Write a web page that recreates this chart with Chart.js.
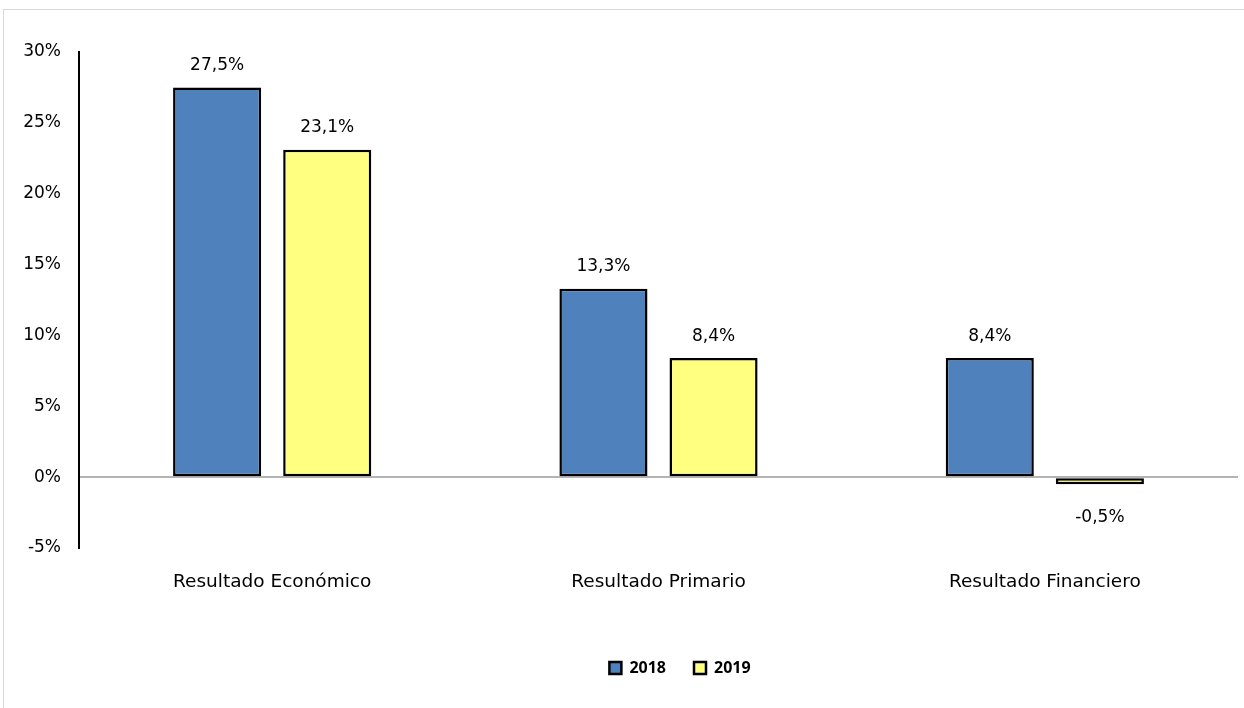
<!DOCTYPE html>
<html>
<head>
<meta charset="utf-8">
<script src="https://cdn.jsdelivr.net/npm/chart.js@4"></script>
<style>
  html, body { margin: 0; padding: 0; background: #fff; overflow: hidden; width: 1244px; height: 708px; position: relative; }
  #box { position: absolute; left: 4px; top: 10px; width: 1352px; height: 700px; background: #fff; }
  #topline { position: absolute; left: 3px; top: 9px; width: 1241px; height: 1px; background: #d9d9d9; }
  #leftline { position: absolute; left: 3px; top: 9px; width: 1px; height: 699px; background: #d9d9d9; }
  canvas { display: block; }
</style>
</head>
<body>
<div id="box"><canvas id="c" width="1352" height="700"></canvas></div>
<div id="topline"></div>
<div id="leftline"></div>
<script>
const categories = ["Resultado Económico", "Resultado Primario", "Resultado Financiero"];
const seriesNames = ["2018", "2019"];
const values2018 = [27.5, 13.3, 8.4];
const values2019 = [23.1, 8.4, -0.5];
const yTicks = [-5, 0, 5, 10, 15, 20, 25, 30];

const FONT = "'DejaVu Sans', 'Noto Sans', sans-serif";

const fmt = v => v.toFixed(1).replace('.', ',') + '%';

const labelPlugin = {
  id: 'barLabels',
  afterDatasetsDraw(chart) {
    const ctx = chart.ctx;
    ctx.save();
    ctx.font = "17px " + FONT;
    ctx.fillStyle = '#000';
    ctx.textAlign = 'center';
    ctx.textBaseline = 'middle';
    chart.data.datasets.forEach((ds, i) => {
      const meta = chart.getDatasetMeta(i);
      meta.data.forEach((bar, j) => {
        const v = ds.data[j];
        const y = v >= 0 ? bar.y - 22 : bar.y + 33;
        ctx.fillText(fmt(v), bar.x, y);
      });
    });
    ctx.restore();
  }
};

new Chart(document.getElementById('c'), {
  type: 'bar',
  data: {
    labels: categories,
    datasets: [
      { label: seriesNames[0], data: values2018, backgroundColor: '#4F81BD', borderColor: '#000', borderWidth: 2.5, borderSkipped: false },
      { label: seriesNames[1], data: values2019, backgroundColor: '#FFFF80', borderColor: '#000', borderWidth: 2.5, borderSkipped: false }
    ]
  },
  options: {
    responsive: false,
    animation: false,
    devicePixelRatio: 1,
    datasets: { bar: { categoryPercentage: 0.57, barPercentage: 0.8 } },
    layout: { padding: { top: 42, right: 0, left: 0, bottom: 24 } },
    plugins: {
      tooltip: { enabled: false },
      legend: {
        position: 'bottom',
        labels: {
          color: '#000',
          font: { family: "'Noto Sans', sans-serif", size: 16, weight: 'bold' },
          boxWidth: 12,
          boxHeight: 12,
          padding: 28
        }
      }
    },
    scales: {
      x: {
        grid: { display: false, drawTicks: false },
        border: { display: false },
        ticks: { color: '#000', font: { family: FONT, size: 18.5 }, padding: 23 },
        afterFit(scale) { scale.height = 84; }
      },
      y: {
        min: -5, max: 30,
        afterBuildTicks(scale) { scale.ticks = yTicks.map(v => ({ value: v })); },
        grid: {
          drawTicks: false,
          lineWidth: 2,
          color: c => (c.tick && c.tick.value === 0) ? '#B4B4B4' : 'rgba(0,0,0,0)'
        },
        border: { display: true, color: '#000', width: 2 },
        ticks: { color: '#000', font: { family: FONT, size: 17 }, padding: 18, callback: v => v + '%' },
        afterFit(scale) { scale.width = 75; }
      },
      pad: {
        position: 'right',
        display: true,
        min: 0, max: 1,
        grid: { display: false, drawTicks: false },
        border: { display: false },
        ticks: { display: false },
        afterFit(scale) { scale.width = 118; }
      }
    }
  },
  plugins: [labelPlugin]
});
</script>
</body>
</html>
